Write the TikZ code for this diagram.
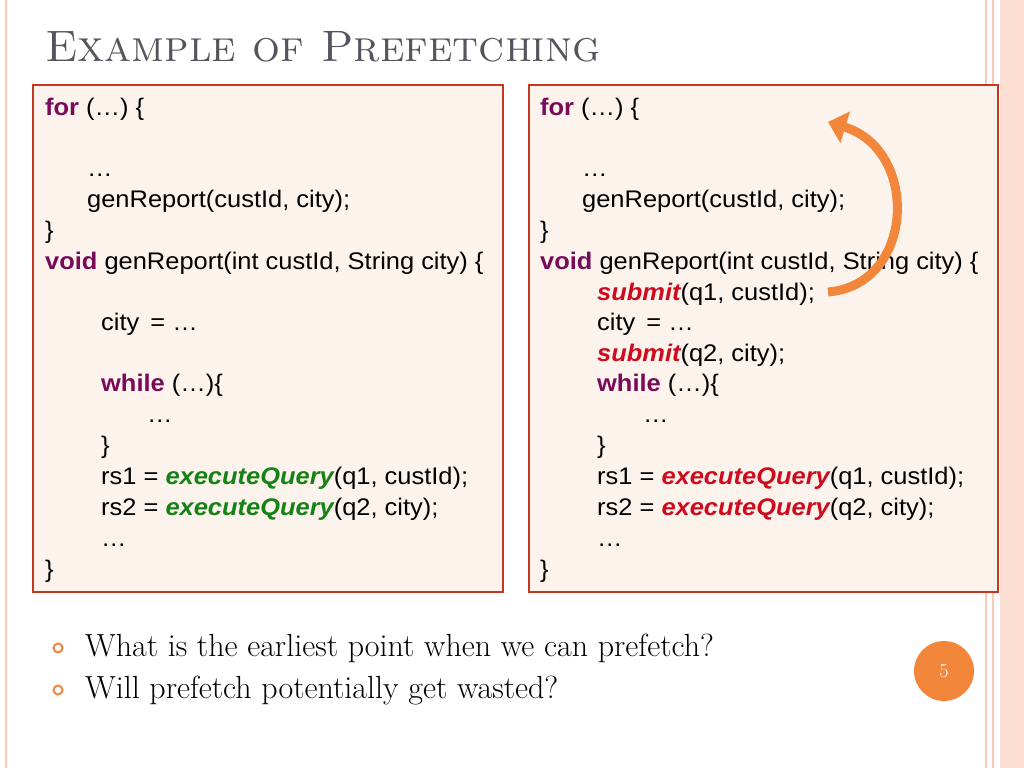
\documentclass[tikz,border=0pt]{standalone}
\usepackage{fontspec}
\newfontfamily\codefont[FakeStretch=1.06]{Liberation Sans}
\usetikzlibrary{arrows.meta}
\definecolor{kwcol}{RGB}{120,10,90}
\definecolor{exgreen}{RGB}{20,130,20}
\definecolor{exred}{RGB}{205,10,30}
\definecolor{boxfill}{RGB}{253,243,237}
\definecolor{boxedge}{RGB}{195,55,35}
\definecolor{accent}{RGB}{242,135,60}
\definecolor{stripe}{RGB}{250,200,180}
\definecolor{titlecol}{RGB}{85,85,95}
\newcommand{\kw}[1]{\textbf{\color{kwcol}#1}}
\newcommand{\exq}[1]{\textbf{\textit{\color{exgreen}#1}}}
\newcommand{\exr}[1]{\textbf{\textit{\color{exred}#1}}}
\begin{document}
\begin{tikzpicture}[x=1bp, y=-1bp,
        code/.style = {anchor=base west, inner sep=0pt,
            font=\codefont\fontsize{24bp}{28bp}\selectfont},
        codebox/.style = {draw=boxedge, line width=2.5bp, fill=boxfill},
        bullet/.style = {anchor=base west, inner sep=0pt,
            font=\fontsize{32bp}{36bp}\selectfont}]
    \useasboundingbox (0,0) rectangle (1024,768);

    % Side stripes
    \fill[stripe!60] (1000,0) rectangle (1024,768);
    \draw[stripe, line width=2bp] (986,0) -- (986,768);
    \draw[stripe, line width=1.5bp] (993,0) -- (993,768);
    \draw[stripe, line width=1.5bp] (6,0) -- (6,768);

    % Title
    \node[anchor=base west, inner sep=0pt, text=titlecol,
        font=\fontsize{44bp}{50bp}\selectfont] (title) at (45,62) {\textsc{Example of Prefetching}};

    % Code boxes
    \draw[codebox] (33,85) rectangle (503,592);
    \draw[codebox] (529,85) rectangle (998,592);

    % Left code
    \node[code] (l1) at (45,115) {\kw{for} (\dots) \{};
    \node[code] (l2) at (87,176) {\dots};
    \node[code] (l3) at (87,207) {genReport(custId, city);};
    \node[code] (l4) at (45,238) {\}};
    \node[code] (l5) at (45,269) {\kw{void} genReport(int custId, String city) \{};
    \node[code] (l6) at (101,330) {city \,= \dots};
    \node[code] (l7) at (101,391) {\kw{while} (\dots)\{};
    \node[code] (l8) at (147,422) {\dots};
    \node[code] (l9) at (101,453) {\}};
    \node[code] (l10) at (101,484) {rs1 = \exq{executeQuery}(q1, custId);};
    \node[code] (l11) at (101,515) {rs2 = \exq{executeQuery}(q2, city);};
    \node[code] (l12) at (101,546) {\dots};
    \node[code] (l13) at (45,577) {\}};

    % Right code
    \node[code] (r1) at (540,115) {\kw{for} (\dots) \{};
    \node[code] (r2) at (582,176) {\dots};
    \node[code] (r3) at (582,207) {genReport(custId, city);};
    \node[code] (r4) at (540,238) {\}};
    \node[code] (r5) at (540,269) {\kw{void} genReport(int custId, String city) \{};
    \node[code] (r6) at (597,300) {\exr{submit}(q1, custId);};
    \node[code] (r7) at (597,330) {city \,= \dots};
    \node[code] (r8) at (597,361) {\exr{submit}(q2, city);};
    \node[code] (r9) at (597,391) {\kw{while} (\dots)\{};
    \node[code] (r10) at (643,422) {\dots};
    \node[code] (r11) at (597,453) {\}};
    \node[code] (r12) at (597,484) {rs1 = \exr{executeQuery}(q1, custId);};
    \node[code] (r13) at (597,515) {rs2 = \exr{executeQuery}(q2, city);};
    \node[code] (r14) at (597,546) {\dots};
    \node[code] (r15) at (540,577) {\}};

    % Hoisting arrow
    \coordinate (from) at (828,292);
    \coordinate (to) at (828,122);
    \draw[accent, line width=9bp, -{Triangle[length=18bp, width=32bp]}]
        (from) .. controls (915,285) and (920,150) .. (to);

    % Bullets
    \draw[accent, line width=2bp] (58,648) circle (4.5);
    \draw[accent, line width=2bp] (58,690) circle (4.5);
    \node[bullet] (q1) at (85,656) {What is the earliest point when we can prefetch?};
    \node[bullet] (q2) at (85,698) {Will prefetch potentially get wasted?};

    % Page number
    \node[circle, fill=accent, minimum size=60bp, inner sep=0pt, text=white,
        font=\fontsize{20bp}{22bp}\selectfont] (page) at (944,671) {5};
\end{tikzpicture}
\end{document}
